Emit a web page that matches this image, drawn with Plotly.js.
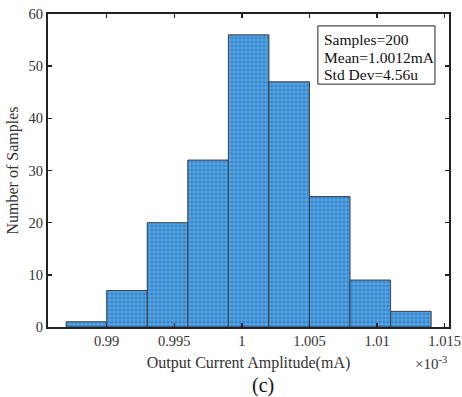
<!DOCTYPE html>
<html><head><meta charset="utf-8">
<script src="https://cdn.plot.ly/plotly-3.0.1.min.js"></script>
<style>html,body{margin:0;padding:0;background:#fff}</style>
</head><body>
<div id="chart" style="width:462px;height:397px"></div>
<script>
// bin edges in units of 1e-3 A (mA scale shown with x10^-3)
const binEdges = [0.987, 0.990, 0.993, 0.996, 0.999, 1.002, 1.005, 1.008, 1.011, 1.014];
const counts = [1, 7, 20, 32, 56, 47, 25, 9, 3];
const statsLines = ["Samples=200", "Mean=1.0012mA", "Std Dev=4.56u"];
const xTitle = "Output Current Amplitude(mA)";
const yTitle = "Number of Samples";

const centers = counts.map((c, i) => (binEdges[i] + binEdges[i + 1]) / 2);
const widths = counts.map((c, i) => binEdges[i + 1] - binEdges[i]);

const font = "Liberation Serif, Times New Roman, serif";

const trace = {
  type: "bar",
  x: centers,
  y: counts,
  width: widths,
  marker: {
    color: "#3088d2",
    line: {color: "#3a3f45", width: 1},
    pattern: {shape: "+", fgcolor: "#8cc0ea", bgcolor: "#3189d3", size: 4, solidity: 0.25}
  },
  hoverinfo: "skip"
};

const lineY = [0.917, 0.861, 0.806];
const statsAnn = statsLines.map((t, i) => ({
  xref: "paper", yref: "paper", x: 0.683, y: lineY[i], xanchor: "left", yanchor: "middle",
  text: t, showarrow: false, font: {family: font, size: 15.5, color: "#111"}
}));

const layout = {
  width: 462, height: 397,
  margin: {l: 48, r: 13, t: 14, b: 70},
  paper_bgcolor: "#fff", plot_bgcolor: "#fff",
  showlegend: false,
  bargap: 0,
  font: {family: font, size: 14, color: "#222"},
  xaxis: {
    range: [0.98566, 1.01532],
    tick0: 0.99, dtick: 0.005,
    ticks: "inside", ticklen: 4, tickwidth: 1.5, tickcolor: "#222",
    showline: true, linecolor: "#222", linewidth: 2, mirror: "ticks",
    showgrid: false, zeroline: false,
    tickfont: {family: font, size: 14.5, color: "#333"},
    title: {text: xTitle, font: {family: font, size: 16, color: "#333"}, standoff: 8}
  },
  yaxis: {
    range: [0, 60], dtick: 10,
    ticks: "inside", ticklen: 4, tickwidth: 1.5, tickcolor: "#222",
    showline: true, linecolor: "#222", linewidth: 2, mirror: "ticks",
    showgrid: false, zeroline: false,
    tickfont: {family: font, size: 14.5, color: "#333"},
    title: {text: yTitle, font: {family: font, size: 16, color: "#333"}, standoff: 6}
  },
  shapes: [
    {type: "rect", xref: "paper", yref: "paper", x0: 0.673, x1: 0.965, y0: 0.776, y1: 0.962,
     line: {color: "#222", width: 1}, fillcolor: "#fff", layer: "above"}
  ],
  annotations: statsAnn.concat([
    {xref: "paper", yref: "paper", x: 1.0, y: -0.116, xanchor: "right", yanchor: "middle",
     text: "×10<sup>-3</sup>", showarrow: false,
     font: {family: font, size: 15, color: "#333"}},
    {xref: "paper", yref: "paper", x: 0.535, y: -0.186, xanchor: "center", yanchor: "middle",
     text: "(c)", showarrow: false,
     font: {family: font, size: 20, color: "#111"}}
  ])
};

Plotly.newPlot("chart", [trace], layout, {displayModeBar: false, staticPlot: true});
</script>
</body></html>
